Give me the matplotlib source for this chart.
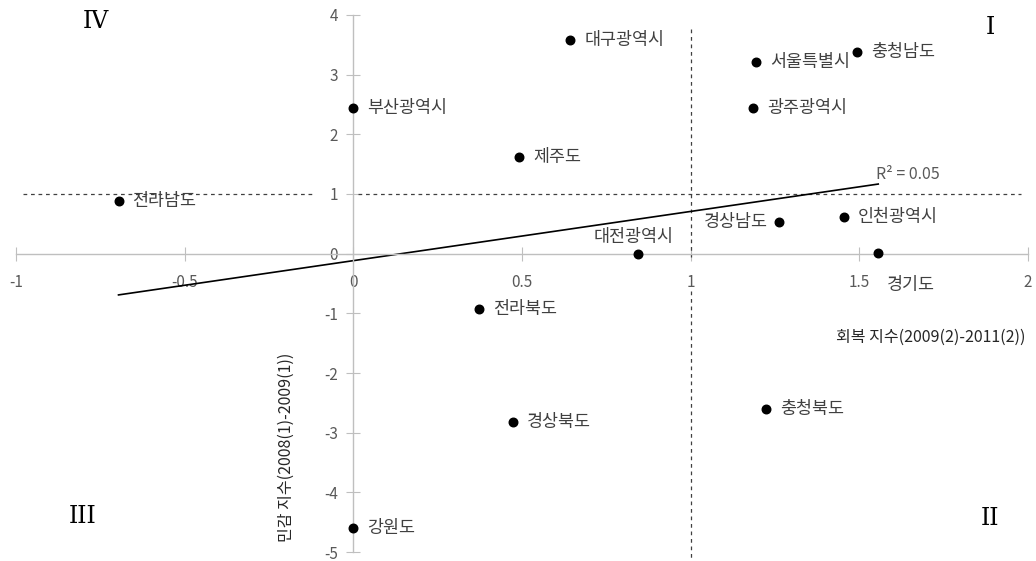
import numpy as np
import matplotlib
matplotlib.use("Agg")
import matplotlib.pyplot as plt

plt.rcParams['font.family'] = ['Noto Sans CJK KR', 'DejaVu Sans']
plt.rcParams['axes.unicode_minus'] = False

# 지역별 회복 지수 / 민감 지수
regions = ['대구광역시', '충청남도', '서울특별시', '광주광역시', '부산광역시',
           '제주도', '전라남도', '경상남도', '인천광역시', '대전광역시',
           '경기도', '전라북도', '경상북도', '충청북도', '강원도']
recovery = [0.643, 1.493, 1.194, 1.185, 0.0,
            0.492, -0.696, 1.262, 1.454, 0.844,
            1.556, 0.373, 0.473, 1.224, 0.0]
sensitivity = [3.575, 3.375, 3.21, 2.44, 2.44,
               1.625, 0.875, 0.525, 0.613, 0.0,
               0.01, -0.925, -2.825, -2.61, -4.6]

x_ticks = [-1, -0.5, 0, 0.5, 1, 1.5, 2]
x_tick_labels = ['-1', '-0.5', '0', '0.5', '1', '1.5', '2']
y_ticks = [-5, -4, -3, -2, -1, 0, 1, 2, 3, 4]
y_tick_labels = ['-5', '-4', '-3', '-2', '-1', '0', '1', '2', '3', '4']

# 라벨 위치 (포인트 기준 오프셋, ha, va)
label_pos = {
    '경상남도': ((-8, 0), 'right', 'center'),
    '대전광역시': ((-3, 12), 'center', 'center'),
    '경기도': ((6, -23), 'left', 'center'),
}

gray = '#595959'
axis_gray = '#bfbfbf'

fig = plt.figure(figsize=(10.36, 5.61), dpi=100)
ax = fig.add_axes([0.0154, 0.016, 0.9769, 0.9573])
ax.set_xlim(-1, 2)
ax.set_ylim(-5, 4)

for s in ['top', 'right']:
    ax.spines[s].set_visible(False)
ax.spines['left'].set_position(('data', 0))
ax.spines['bottom'].set_position(('data', 0))
for s in ['left', 'bottom']:
    ax.spines[s].set_color(axis_gray)
    ax.spines[s].set_linewidth(1.0)

ax.set_xticks(x_ticks)
ax.set_xticklabels(x_tick_labels)
ax.set_yticks(y_ticks)
ax.set_yticklabels(y_tick_labels)
ax.tick_params(direction='inout', length=10, color=axis_gray, labelcolor=gray,
               labelsize=11)
ax.tick_params(axis='x', pad=10)
ax.tick_params(axis='y', pad=6)

# 사분면 구분 점선
ax.plot([-0.98, -0.115], [1, 1], ls='--', color='#404040', lw=0.9, dashes=(3, 3))
ax.plot([0.015, 1.98], [1, 1], ls='--', color='#404040', lw=0.9, dashes=(3, 3))
ax.plot([1, 1], [3.77, -0.05], ls='--', color='#404040', lw=0.9, dashes=(3, 3))
ax.plot([1, 1], [-0.62, -5.1], ls='--', color='#404040', lw=0.9, dashes=(3, 3),
        clip_on=False)

# 추세선
x = np.array(recovery)
y = np.array(sensitivity)
slope, intercept = np.polyfit(x, y, 1)
fit = slope * x + intercept
r2 = 1 - np.sum((y - fit) ** 2) / np.sum((y - y.mean()) ** 2)
xs = np.array([x.min(), x.max()])
ax.plot(xs, slope * xs + intercept, color='black', lw=1.2)
ax.text(1.55, 1.32, f'R² = {r2:.2f}', color=gray, fontsize=11.5,
        ha='left', va='center')

ax.scatter(x, y, s=38, color='black', zorder=5)

for name, xi, yi in zip(regions, recovery, sensitivity):
    off, ha, va = label_pos.get(name, ((10, 0), 'left', 'center'))
    ax.annotate(name, (xi, yi), xytext=off, textcoords='offset points',
                ha=ha, va=va, fontsize=12.5, color='#404040')

# 축 제목
ax.text(-0.2, -3.25, '민감 지수(2008(1)-2009(1))', rotation=90, fontsize=11.5,
        color='#262626', ha='center', va='center')
ax.text(1.713, -1.40, '회복 지수(2009(2)-2011(2))', fontsize=11.5,
        color='#262626', ha='center', va='center')

# 사분면 번호
for label, qx, qy in [('IV', -0.764, 3.89), ('I', 1.887, 3.79),
                      ('III', -0.803, -4.41), ('II', 1.887, -4.44)]:
    ax.text(qx, qy, label, family='DejaVu Serif', fontsize=17,
            color='black', ha='center', va='center')

fig.savefig('out.png', dpi=100)
